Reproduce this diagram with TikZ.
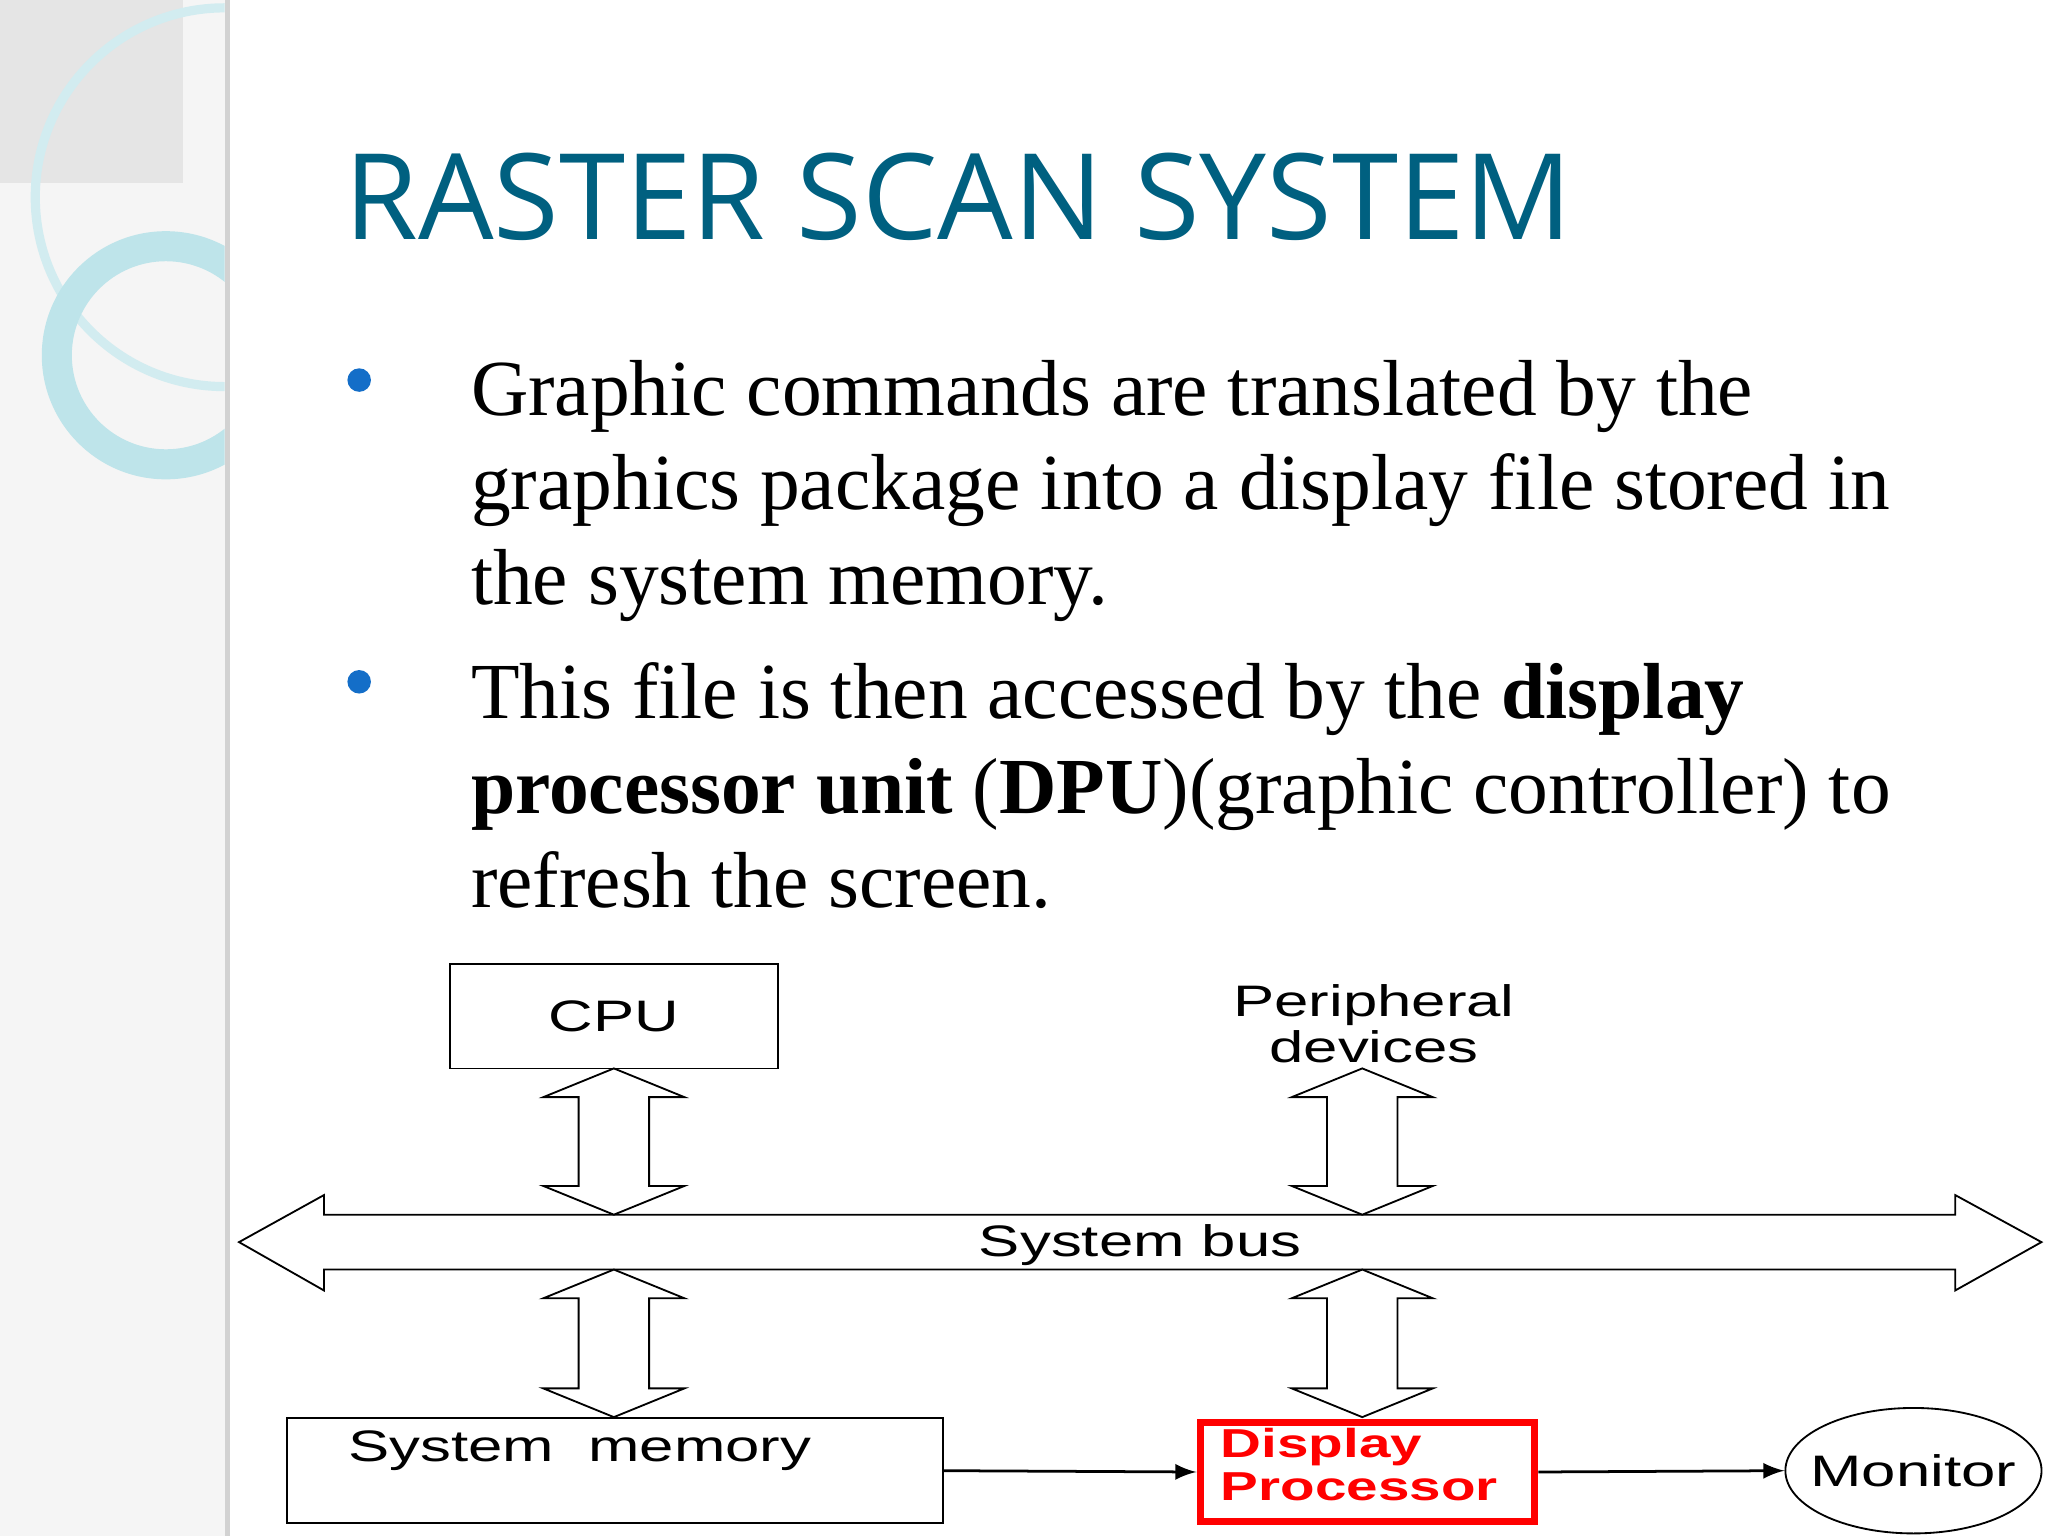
\documentclass[tikz,border=0pt]{standalone}
\usepackage{fontspec}
\setmainfont{Liberation Serif}
\newfontfamily\titlefont{Open Sans}
\newfontfamily\diagfont{Liberation Sans}
\usetikzlibrary{positioning,shapes.geometric}

\definecolor{titleteal}{RGB}{0,96,128}
\definecolor{bulletblue}{RGB}{20,110,200}
\definecolor{ringcyan}{RGB}{190,228,234}

\newcommand{\fatarrow}[3]{% x, top y, bottom y
  \draw[fill=white] (#1,#2) -- (#1+54,#2+22) -- (#1+27,#2+22) -- (#1+27,#3-22)
    -- (#1+54,#3-22) -- (#1,#3) -- (#1-54,#3-22) -- (#1-27,#3-22)
    -- (#1-27,#2+22) -- (#1-54,#2+22) -- cycle;}
\newcommand{\wide}[1]{\scalebox{1.4}[1]{#1}}

\begin{document}
\begin{tikzpicture}[x=0.01cm,y=-0.01cm,
  bodytext/.style={anchor=base west,inner sep=0pt,font=\fontsize{17.3}{20}\selectfont},
  diagtext/.style={font=\diagfont\fontsize{9.6}{11}\selectfont},
  dputext/.style={font=\diagfont\fontsize{8.8}{10}\selectfont,anchor=base west,inner sep=0pt,text=red},
  box/.style={draw,thin}]

\useasboundingbox (0,0) rectangle (1568,1176);
\fill[white] (0,0) rectangle (1568,1176);

% left panel
\fill[gray!8] (0,0) rectangle (172,1176);
\fill[gray!20] (0,0) rectangle (140,140);
\begin{scope}
\clip (0,0) rectangle (172,1176);
\draw[ringcyan!70,line width=2pt] (172,151) circle (145);
\fill[ringcyan,even odd rule] (127,272) circle (95) (127,272) circle (72);
\end{scope}
\fill[gray!35] (172,0) rectangle (176,1176);

% title
\node[anchor=base west,inner sep=0pt,text=titleteal,font=\titlefont\fontsize{26}{30}\selectfont] (title) at (263,183) {RASTER SCAN SYSTEM};

% bullets
\fill[bulletblue] (275,291) circle (9);
\fill[bulletblue] (275,522) circle (9);
\node[bodytext] (l1) at (360,318) {Graphic commands are translated by the};
\node[bodytext] (l2) at (360,390) {graphics package into a display file stored in};
\node[bodytext] (l3) at (360,463) {the system memory.};
\node[bodytext] (l4) at (360,550) {This file is then accessed by the \textbf{display}};
\node[bodytext] (l5) at (360,623) {\textbf{processor unit} (\textbf{DPU})(graphic controller) to};
\node[bodytext] (l6) at (360,695) {refresh the screen.};

% diagram
\node[box,minimum width=2.51cm,minimum height=0.8cm,diagtext] (cpu) at (470,778) {\wide{CPU}};
\node[diagtext,align=center] (periph) at (1052,784) {\wide{Peripheral}\\[-1pt]\wide{devices}};
\node[box,minimum width=5.02cm,minimum height=0.8cm] (mem) at (471,1126) {};
\node[diagtext,anchor=base west,inner sep=0pt] (memtext) at (266,1119) {\wide{System\ \ memory}};
\node[draw=red,line width=1.6pt,minimum width=2.56cm,minimum height=0.76cm,inner sep=0pt] (dpu) at (1047,1127) {};
\node[dputext] (dpu1) at (934,1116) {\wide{\textbf{Display}}};
\node[dputext] (dpu2) at (934,1149) {\wide{\textbf{Processor}}};
\node[draw,ellipse,minimum width=1.96cm,minimum height=0.96cm,inner sep=0pt] (monitor) at (1465,1126) {};
\node[diagtext] (montext) at (monitor.center) {\wide{Monitor}};

% system bus
\draw[fill=white] (183,951) -- (248,915) -- (248,930) -- (1497,930) -- (1497,915)
  -- (1563,951) -- (1497,988) -- (1497,972) -- (248,972) -- (248,988) -- cycle;
\node[diagtext] (bus) at (873,953) {\wide{System bus}};

\fatarrow{470}{818}{930}
\fatarrow{1043}{818}{930}
\fatarrow{470}{972}{1085}
\fatarrow{1043}{972}{1085}

\draw[-latex,semithick] (mem.east) -- (dpu.west);
\draw[-latex,semithick] (dpu.east) -- (monitor.west);

\end{tikzpicture}
\end{document}
